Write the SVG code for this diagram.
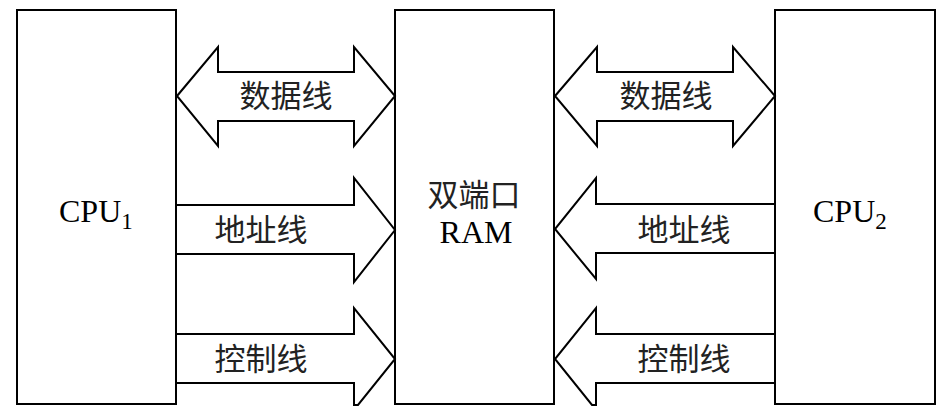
<svg xmlns="http://www.w3.org/2000/svg" width="950" height="414" viewBox="0 0 950 414">
<style>
.box{fill:none;stroke:#000;stroke-width:2}
.arr{fill:#fff;stroke:#000;stroke-width:2;stroke-linejoin:miter}
.cj{font-family:"Noto Sans CJK SC",sans-serif;font-size:31px;fill:#222;text-anchor:middle}
.lat{font-family:"Liberation Serif","Times New Roman",serif;font-size:32px;fill:#000}
</style>
<rect width="950" height="414" fill="#fff"/>
<g id="connectors">
<polygon class="arr" points="177,96 218,47 218,72 354,72 354,47 395,96 354,146 354,121 218,121 218,146"/>
<polygon class="arr" points="555,96 597,47 597,72 733,72 733,47 775,96 733,146 733,121 597,121 597,146"/>
<polyline class="arr" points="177,205 354,205 354,178 395,230 354,282 354,254 177,254"/>
<polyline class="arr" points="775,204 596,204 596,178 555,229 596,279 596,253 775,253"/>
<polyline class="arr" points="177,334 354,334 354,308 395,359 358,405 354,405 354,383 177,383"/>
<polyline class="arr" points="775,334 596,334 596,308 555,359 592,405 596,405 596,383 775,383"/>
</g>
<g id="cpu1">
<rect class="box" x="17" y="10" width="159" height="394"/>
<text class="lat" x="59" y="222">CPU<tspan font-size="23" dy="7">1</tspan></text>
</g>
<g id="ram">
<rect class="box" x="395" y="10" width="159" height="394"/>
<text class="cj" x="474" y="206">双端口</text>
<text class="lat" x="476" y="243" text-anchor="middle" font-family="Liberation Serif">RAM</text>
</g>
<g id="cpu2">
<rect class="box" x="775" y="10" width="160" height="394"/>
<text class="lat" x="813" y="222">CPU<tspan font-size="23" dy="7">2</tspan></text>
</g>
<g id="labels">
<text class="cj" x="286" y="107">数据线</text>
<text class="cj" x="666" y="107">数据线</text>
<text class="cj" x="261" y="241">地址线</text>
<text class="cj" x="684" y="241">地址线</text>
<text class="cj" x="261" y="370">控制线</text>
<text class="cj" x="684" y="370">控制线</text>
</g>
</svg>
